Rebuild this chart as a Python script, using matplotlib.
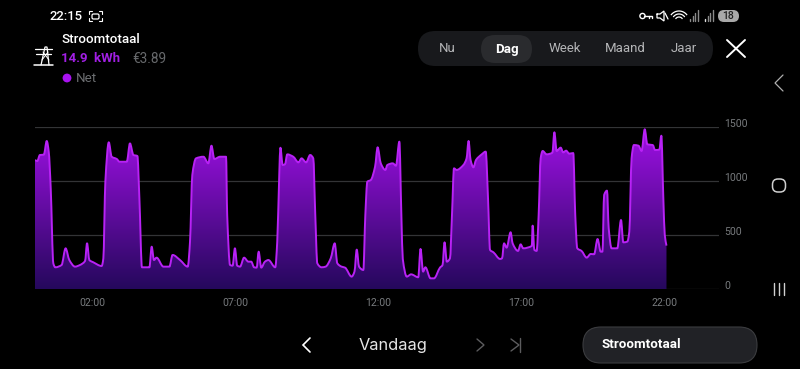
"""Daily grid power screen: purple area chart plus the app chrome around it."""
import numpy as np
import matplotlib
matplotlib.use("Agg")
import matplotlib.pyplot as plt
from matplotlib.patches import FancyBboxPatch, Circle, PathPatch
from matplotlib.path import Path
from matplotlib.transforms import ScaledTranslation

plt.rcParams["font.family"] = ["Roboto", "DejaVu Sans"]

hours = [0, .08, .17, .31, .41, .48, .55, .64, .71, .93, 1.07, 1.20, 1.40, 1.57, 1.75, 1.82, 1.90, 2.04, 2.33, 2.39,
         2.46, 2.58, 2.68, 2.86, 2.95, 3.21, 3.32, 3.44, 3.58, 3.65, 3.74, 4.0, 4.08, 4.16, 4.25, 4.49, 4.70, 4.81,
         5.07, 5.34, 5.42, 5.50, 5.63, 5.89, 6.06, 6.17, 6.27, 6.47, 6.68, 6.72, 6.82, 6.91, 6.99, 7.07, 7.17, 7.31,
         7.46, 7.56, 7.66, 7.75, 7.82, 7.91, 8.04, 8.16, 8.40, 8.47, 8.54, 8.58, 8.66, 8.74, 8.82, 9.03, 9.21, 9.32,
         9.48, 9.62, 9.73, 9.80, 9.87, 10.02, 10.16, 10.34, 10.48, 10.57, 10.72, 10.84, 11.07, 11.17, 11.25, 11.33,
         11.48, 11.55, 11.62, 11.74, 11.89, 11.98, 12.09, 12.25, 12.32, 12.51, 12.62, 12.74, 12.81, 12.86, 13.0,
         13.15, 13.40, 13.48, 13.57, 13.65, 13.83, 13.95, 14.16, 14.25, 14.32, 14.40, 14.51, 14.58, 14.65, 14.74,
         14.98, 15.09, 15.16, 15.23, 15.33, 15.42, 15.62, 15.76, 15.84, 15.91, 16.03, 16.26, 16.33, 16.40, 16.49,
         16.63, 16.70, 16.89, 16.98, 17.07, 17.37, 17.40, 17.46, 17.54, 17.61, 17.68, 17.75, 17.89, 18.09, 18.16,
         18.24, 18.38, 18.47, 18.57, 18.68, 18.82, 18.89, 18.96, 19.11, 19.29, 19.43, 19.55, 19.67, 19.78, 19.84,
         19.90, 20.0, 20.06, 20.16, 20.36, 20.49, 20.57, 20.71, 20.78, 20.86, 20.94, 21.10, 21.21, 21.32, 21.41,
         21.60, 21.68, 21.83, 21.90, 21.97, 22.02, 22.08]
watts = [1193, 1183, 1239, 1242, 1368, 1270, 931, 240, 203, 224, 378, 270, 209, 224, 261, 424, 270, 249, 215, 286,
         993, 1356, 1223, 1202, 1177, 1177, 1346, 1239, 1230, 839, 203, 203, 393, 270, 292, 209, 209, 317,
         270, 209, 440, 1054, 1208, 1223, 1162, 1325, 1202, 1223, 1223, 686, 224, 218, 378, 218, 209, 292,
         255, 255, 203, 200, 347, 200, 255, 270, 203, 440, 1054, 1306, 1147, 1153, 1245, 1223, 1171, 1208,
         1171, 1239, 1208, 686, 240, 203, 209, 286, 424, 240, 209, 200, 117, 163, 366, 209,
         178, 686, 993, 1008, 1131, 1310, 1162, 1101, 1147, 1162, 1140, 1362, 686, 280, 117,
         138, 111, 372, 163, 203, 101, 101, 200, 224, 433, 255, 286, 686, 1116, 1101,
         1147, 1208, 1368, 1193, 1125, 1193, 1245, 1270, 839, 363, 341, 280, 286, 424, 384,
         526, 424, 354, 415, 378, 400, 587, 363, 354, 686, 1208, 1276, 1245, 1260, 1448,
         1276, 1307, 1263, 1279, 1251, 1257, 686, 378, 354, 292, 326, 323, 464, 347, 347,
         870, 910, 563, 378, 378, 639, 433, 440, 532, 1208, 1331, 1325, 1276, 1476, 1337,
         1331, 1285, 1288, 1417, 839, 501, 403]
x_ticks = [2, 7, 12, 17, 22]
x_labels = ["02:00", "07:00", "12:00", "17:00", "22:00"]
y_ticks = [0, 500, 1000, 1500]
tabs = ["Nu", "Dag", "Week", "Maand", "Jaar"]
tab_x = [447, 507, 565, 625, 684]

W, H = 800, 369
PURPLE, LINE = "#a11fe3", "#b822f5"
fig = plt.figure(figsize=(W / 100, H / 100), dpi=100, facecolor="black")


def smooth_path(xs, ys):
    """Bezier path through the points, flat tangents at local peaks (the app's monotone curve)."""
    xs, ys = np.asarray(xs, float), np.asarray(ys, float)
    sl = np.diff(ys) / np.diff(xs)
    m = np.zeros(len(xs))
    for i in range(1, len(xs) - 1):
        if sl[i - 1] * sl[i] > 0:
            m[i] = 2 * sl[i - 1] * sl[i] / (sl[i - 1] + sl[i])
    m[0], m[-1] = sl[0], sl[-1]
    v, c = [(xs[0], ys[0])], [Path.MOVETO]
    for i in range(len(xs) - 1):
        h = (xs[i + 1] - xs[i]) / 3
        v += [(xs[i] + h, ys[i] + m[i] * h), (xs[i + 1] - h, ys[i + 1] - m[i + 1] * h), (xs[i + 1], ys[i + 1])]
        c += [Path.CURVE4] * 3
    return v, c


# ---------------------------------------------------------------- chart
ax = fig.add_axes([35 / W, 1 - 289.3 / H, 684 / W, 162.6 / H], facecolor="black")
ax.set_xlim(0, 684 / 28.6)
ax.set_ylim(0, 1500)
for s in ax.spines.values():
    s.set_visible(False)
ax.yaxis.tick_right()
ax.set_yticks(y_ticks)
ax.set_xticks(x_ticks, x_labels)
ax.tick_params(length=0, labelsize=7.6, labelcolor="#777a7d")
ax.tick_params(axis="x", pad=6)
ax.tick_params(axis="y", pad=4)
off = ScaledTranslation(0, 3 / 72, fig.dpi_scale_trans)
for lab in ax.get_yticklabels():
    lab.set_transform(lab.get_transform() + off)
ax.grid(axis="y", color="#333436", lw=.9, zorder=0)
ax.set_axisbelow(True)

verts, codes = smooth_path(hours, watts)

# vertical gradient clipped to the area under the curve
grad = np.linspace(0, 1, 256)[:, None, None]
c0, c1 = np.array([0x25, 0x08, 0x5c]) / 255, np.array([0xa0, 0x10, 0xe6]) / 255
img = (c0 + (c1 - c0) * grad).astype(float)
im = ax.imshow(img, extent=[0, hours[-1], 0, 1480], origin="lower", aspect="auto", zorder=2)
area = Path(verts + [(hours[-1], 0), (hours[0], 0), (hours[0], watts[0])],
            codes + [Path.LINETO, Path.LINETO, Path.LINETO])
clip = PathPatch(area, transform=ax.transData, fc="none", ec="none")
ax.add_patch(clip)
im.set_clip_path(clip)
ax.set_xlim(0, 684 / 28.6)
ax.set_ylim(0, 1500)
ax.add_patch(PathPatch(Path(verts, codes), fc="none", ec=LINE, lw=1.4, joinstyle="round", zorder=3))

# ---------------------------------------------------------------- chrome, in pixel coords
ui = fig.add_axes([0, 0, 1, 1], facecolor="none")
ui.set_xlim(0, W)
ui.set_ylim(H, 0)
ui.axis("off")


def line(xs, ys, color="white", lw=1.0):
    ui.plot(xs, ys, color=color, lw=lw, solid_capstyle="round", solid_joinstyle="miter")


def pill(x0, y0, x1, y1, fc, ec="none"):
    r = (y1 - y0) / 2
    ui.add_patch(FancyBboxPatch((x0 + r, y0 + r), x1 - x0 - 2 * r, 0, boxstyle=f"round,pad={r}",
                                fc=fc, ec=ec, lw=.8))


ui.text(49, 16, "22:15", color="white", fontsize=9.4, fontweight="medium", va="center")
ui.add_patch(FancyBboxPatch((92, 14), 7, 5, boxstyle="round,pad=0,rounding_size=1.5", fc="none", ec="white", lw=.9))
for sx, sy in ((89, 11), (102, 11), (89, 21), (102, 21)):
    dx, dy = (3 if sx < 95 else -3), (3 if sy < 16 else -3)
    line([sx, sx, sx + dx], [sy + dy, sy, sy], lw=.8)

# pylon icon
line([41, 45, 47, 49], [65, 47, 47, 65], lw=.9)
line([35, 52], [49, 49], lw=.9)
line([36, 51], [54, 54], lw=.9)
line([34, 53], [65, 65], lw=1.1)
line([43, 49], [52, 60], lw=.7)
line([48, 42], [52, 60], lw=.7)

ui.text(61, 39.5, "Stroomtotaal", color="white", fontsize=9.6, fontweight="medium", va="center")
ui.text(61, 59, "14.9  kWh", color=PURPLE, fontsize=9.5, fontweight="bold", va="center")
ui.text(132, 59, "€3.89", color="#67696c", fontsize=9.8, va="center")
ui.add_patch(Circle((67, 78), 4.4, fc="#a812f0", ec="none"))
ui.text(76, 78, "Net", color="#6c6e71", fontsize=9.6, va="center")

# status bar
line([644, 652, 652], [16, 16, 18], lw=1.0)
line([649, 649], [16, 18], lw=1.0)
ui.add_patch(Circle((642.5, 16), 2.6, fc="black", ec="white", lw=1))
line([657, 660, 664, 664, 660, 657, 657], [14, 14, 11, 21, 18, 18, 14], lw=.9)
line([665, 668], [13, 19], lw=.9)
for r in (4, 7, 10):
    t = np.linspace(np.pi * 1.22, np.pi * 1.78, 20)
    ui.plot(679 + r * np.cos(t), 21 + r * np.sin(t), color="white", lw=.9)
for x0 in (690, 705):
    for i in range(4):
        line([x0 + i * 2.7] * 2, [21, 19 - i * 3], color="#e0e0e0" if (x0 == 705 and i == 0) else "#8a8a8a", lw=1.0)
pill(718, 10, 739, 22, "#a9a9a9")
ui.text(728.5, 16.2, "18", color="#222", fontsize=7.6, fontweight="medium", ha="center", va="center")

# period selector
pill(418, 31, 713, 66, "#18191c")
pill(481, 35, 532, 63, "#2a2b2e")
for name, x in zip(tabs, tab_x):
    sel = name == "Dag"
    ui.text(x, 49, name, color="white" if sel else "#b4b5b7", fontsize=9.5,
            fontweight="bold" if sel else "normal", ha="center", va="center")
line([727, 745], [40, 57], lw=1.4)
line([727, 745], [57, 40], lw=1.4)

# android nav
line([783, 775, 783], [75, 83, 91], color="#b0b0b0", lw=.9)
ui.add_patch(FancyBboxPatch((772.5, 179), 13, 13, boxstyle="round,pad=0,rounding_size=5.5",
                            fc="none", ec="#d0d0d0", lw=1.1))
for x in (774, 779, 784):
    line([x, x], [283, 295], color="#d0d0d0", lw=1.0)

# bottom bar
line([310, 303, 310], [338, 345, 352], lw=1.2)
ui.text(393, 345.5, "Vandaag", color="#e6e6e6", fontsize=11.8, family=["Inter", "DejaVu Sans"], ha="center", va="center")
line([477, 484, 477], [339, 345, 351], color="#5c5c5e", lw=1.0)
line([511, 519, 511], [339, 345, 351], color="#5c5c5e", lw=1.0)
line([520, 520], [338, 352], color="#5c5c5e", lw=1.0)
pill(583, 327, 757, 363, "#212226", "#3b3c3f")
ui.text(601, 345, "Stroomtotaal", color="white", fontsize=9.6, fontweight="bold", va="center")

fig.savefig("out.png", dpi=100, facecolor="black")
